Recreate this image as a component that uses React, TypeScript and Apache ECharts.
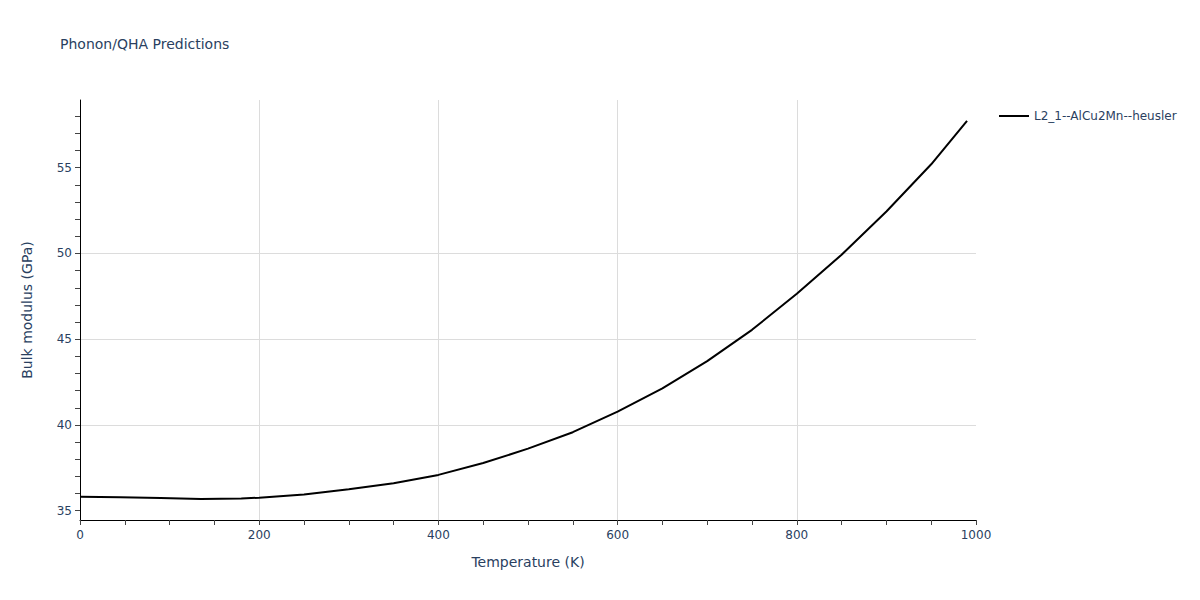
import React, { useEffect, useRef } from "react";
import * as echarts from "echarts";

const seriesName = "L2_1--AlCu2Mn--heusler";
const temperatures = [0, 45, 90, 135, 180, 200, 250, 300, 350, 400, 450, 500, 550, 600, 650, 700, 750, 800, 850, 900, 950, 990];
const bulkModulus = [35.82, 35.79, 35.74, 35.69, 35.72, 35.76, 35.95, 36.25, 36.6, 37.09, 37.78, 38.62, 39.58, 40.78, 42.14, 43.72, 45.55, 47.65, 49.93, 52.45, 55.2, 57.73];
const yLabelValues = [35, 40, 45, 50, 55];
const yMinorTickValues = [35, 36, 37, 38, 39, 40, 41, 42, 43, 44, 45, 46, 47, 48, 49, 50, 51, 52, 53, 54, 55, 56, 57, 58];

const textColor = "#2a3f5f";
const font = '"DejaVu Sans", Verdana, sans-serif';

export default function App() {
  const ref = useRef<HTMLDivElement>(null);
  useEffect(() => {
    document.body.style.margin = "0";
    const chart = echarts.init(ref.current!, null, { renderer: "svg" });
    chart.setOption({
      animation: false,
      textStyle: { fontFamily: font },
      title: {
        text: "Phonon/QHA Predictions",
        left: 60,
        top: 37,
        padding: 0,
        textStyle: { fontFamily: font, fontSize: 14, fontWeight: "normal", color: textColor },
      },
      legend: {
        left: 994,
        top: 105,
        itemWidth: 30,
        itemHeight: 14,
        textStyle: { fontFamily: font, fontSize: 12, color: textColor },
        data: [{ name: seriesName, icon: "path://M0,6 L30,6 L30,8 L0,8 Z" }],
      },
      grid: { left: 80, right: 224, top: 100, bottom: 80 },
      xAxis: {
        type: "value",
        min: 0,
        max: 1000,
        interval: 200,
        name: "Temperature (K)",
        nameLocation: "middle",
        nameGap: 35,
        nameTextStyle: { fontFamily: font, fontSize: 14, color: textColor },
        axisLine: { show: true, lineStyle: { color: "#000", width: 1 } },
        axisTick: { show: true, inside: false, length: 5, lineStyle: { color: "#444" } },
        minorTick: { show: true, splitNumber: 4, length: 5, lineStyle: { color: "#444" } },
        axisLabel: { fontFamily: font, fontSize: 12, color: textColor, margin: 9, formatter: (v: number) => String(v) },
        splitLine: { show: true, showMinLine: false, showMaxLine: false, lineStyle: { color: "#dcdcdc", width: 1 } },
      },
      yAxis: [
        {
          type: "value",
          min: 34.46,
          max: 58.95,
          name: "Bulk modulus (GPa)",
          nameLocation: "middle",
          nameGap: 46,
          nameTextStyle: { fontFamily: font, fontSize: 14, color: textColor },
          axisLine: { show: true, lineStyle: { color: "#000", width: 1 } },
          axisTick: { show: true, inside: false, length: 5, customValues: yLabelValues, lineStyle: { color: "#444" } },
          axisLabel: { fontFamily: font, fontSize: 12, color: textColor, margin: 8, customValues: yLabelValues },
          splitLine: { show: true, showMinLine: false, showMaxLine: false, lineStyle: { color: "#dcdcdc", width: 1 } },
        },
        {
          type: "value",
          min: 34.46,
          max: 58.95,
          position: "left",
          axisLine: { show: false },
          axisTick: { show: true, inside: false, length: 5, customValues: yMinorTickValues, lineStyle: { color: "#444" } },
          axisLabel: { show: false, customValues: yMinorTickValues },
          splitLine: { show: false },
        },
      ],
      series: [
        {
          name: seriesName,
          type: "line",
          yAxisIndex: 0,
          data: temperatures.map((t, i) => [t, bulkModulus[i]]),
          symbol: "none",
          smooth: false,
          lineStyle: { color: "#000", width: 2 },
          itemStyle: { color: "#000" },
        },
      ],
    });
    return () => chart.dispose();
  }, []);
  return <div ref={ref} style={{ width: 1200, height: 600 }} />;
}
